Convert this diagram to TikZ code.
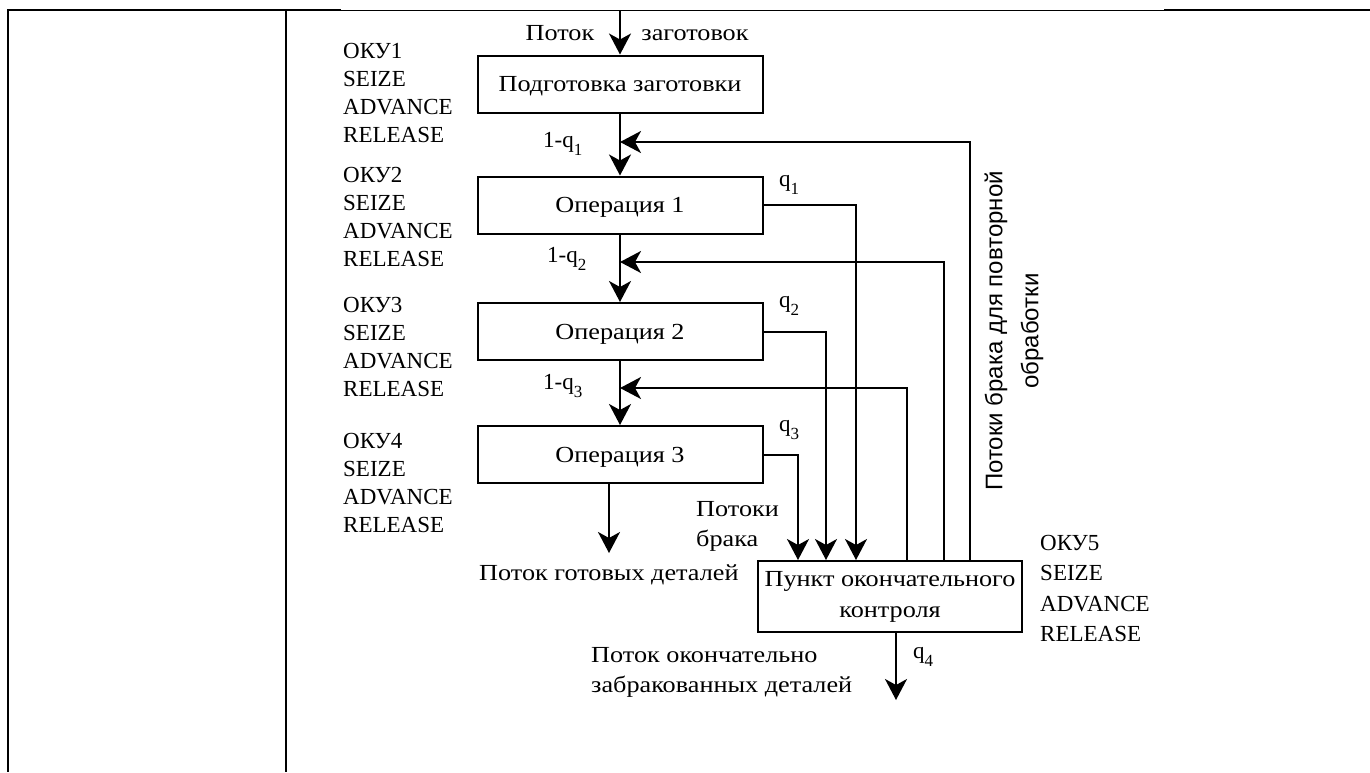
\documentclass[tikz,border=0pt]{standalone}
\usepackage{fontspec}
\setmainfont{Liberation Serif}
\newfontfamily\cy{Liberation Serif}[FakeStretch=1.14]
\newfontfamily\sansf{Liberation Sans}
\usetikzlibrary{arrows.meta}
\newcommand\qsub[1]{q\raisebox{-8pt}{\fontsize{17}{17}\selectfont #1}}
\begin{document}
\begin{tikzpicture}[x=1pt,y=-1pt,
  frame/.style={line width=2pt},
  arr/.style={line width=2pt,-{Stealth[length=21pt,width=22pt,inset=6pt]}},
  box/.style={draw,line width=2pt,minimum width=285pt,minimum height=57pt,inner sep=0pt,
              text height=15pt,text depth=0pt,font=\cy\fontsize{23}{28}\selectfont},
  txt/.style={inner sep=0pt,font=\fontsize{23}{28}\selectfont},
  ctxt/.style={inner sep=0pt,font=\cy\fontsize{23}{30}\selectfont},
  oky/.style={inner sep=0pt,anchor=north west,align=left,font=\fontsize{23}{28}\selectfont},
]
\useasboundingbox (0,0) rectangle (1370,772);
% table frame
\draw[frame] (8,9) -- (8,772);
\draw[frame] (286,9) -- (286,772);
\draw[frame] (7,10) -- (341,10);
\draw[line width=1pt] (341,10) -- (1164,10);
\draw[frame] (1164,10) -- (1370,10);

% boxes
\node[box] (b1) at (620,84) {Подготовка заготовки};
\node[box] (b2) at (620,205) {Операция 1};
\node[box] (b3) at (620,331.5) {Операция 2};
\node[box] (b4) at (620,454.5) {Операция 3};
\node[draw,line width=2pt,minimum width=264pt,minimum height=71pt,inner sep=0pt,align=center,
      font=\cy\fontsize{23}{31}\selectfont] (fin) at (890,596.5) {Пункт окончательного\\контроля};

% OKY blocks
\node[oky] (o1) at (343,43) {ОКУ1\\SEIZE\\ADVANCE\\RELEASE};
\node[oky] (o2) at (343,167) {ОКУ2\\SEIZE\\ADVANCE\\RELEASE};
\node[oky] (o3) at (343,297) {ОКУ3\\SEIZE\\ADVANCE\\RELEASE};
\node[oky] (o4) at (343,433) {ОКУ4\\SEIZE\\ADVANCE\\RELEASE};
\node[oky,font=\fontsize{23}{30.5}\selectfont] (o5) at (1040,535) {ОКУ5\\SEIZE\\ADVANCE\\RELEASE};

% coordinates
\coordinate (top) at (620,10);
\coordinate (x1) at (856,0);
\coordinate (x2) at (826,0);
\coordinate (x3) at (798,0);
\coordinate (f1) at (970,0);
\coordinate (f2) at (944,0);
\coordinate (f3) at (907,0);
\coordinate (y1) at (0,142);
\coordinate (y2) at (0,262);
\coordinate (y3) at (0,388);
\coordinate (out4) at (609,553);
\coordinate (outf) at (896,700);

% main flow
\draw[arr] (top) -- (b1.north);
\draw[arr] (b1.south) -- (b2.north);
\draw[arr] (b2.south) -- (b3.north);
\draw[arr] (b3.south) -- (b4.north);
\draw[arr] (out4 |- b4.south) -- (out4);
\draw[arr] (outf |- fin.south) -- (outf);

% reject flows
\draw[arr] (b2.east) -| (x1 |- fin.north);
\draw[arr] (b3.east) -| (x2 |- fin.north);
\draw[arr] (b4.east) -| (x3 |- fin.north);

% rework flows
\draw[arr] (f1 |- fin.north) |- (b1.south |- y1);
\draw[arr] (f2 |- fin.north) |- (b1.south |- y2);
\draw[arr] (f3 |- fin.north) |- (b1.south |- y3);

% labels
\node[ctxt,anchor=base] (l1) at (560,40) {Поток};
\node[ctxt,anchor=base] (l2) at (695,40) {заготовок};
\node[txt,anchor=base west] (p1) at (543,147) {1-\qsub{1}};
\node[txt,anchor=base west] (p2) at (547,262) {1-\qsub{2}};
\node[txt,anchor=base west] (p3) at (543,389) {1-\qsub{3}};
\node[txt,anchor=base west] (q1) at (779,186) {\qsub{1}};
\node[txt,anchor=base west] (q2) at (779,307) {\qsub{2}};
\node[txt,anchor=base west] (q3) at (779,431) {\qsub{3}};
\node[txt,anchor=base west] (q4) at (913,658) {\qsub{4}};
\node[ctxt,anchor=north west,align=left] (pb) at (696,501) {Потоки\\брака};
\node[ctxt,anchor=base west] (gd) at (479,580) {Поток готовых деталей};
\node[ctxt,anchor=north west,align=left] (zd) at (591,647) {Поток окончательно\\забракованных деталей};
\node[inner sep=0pt,rotate=90,align=center,font=\sansf\fontsize{24}{36}\selectfont] (rw) at (1014,331) {Потоки брака для повторной\\обработки};
\end{tikzpicture}
\end{document}
